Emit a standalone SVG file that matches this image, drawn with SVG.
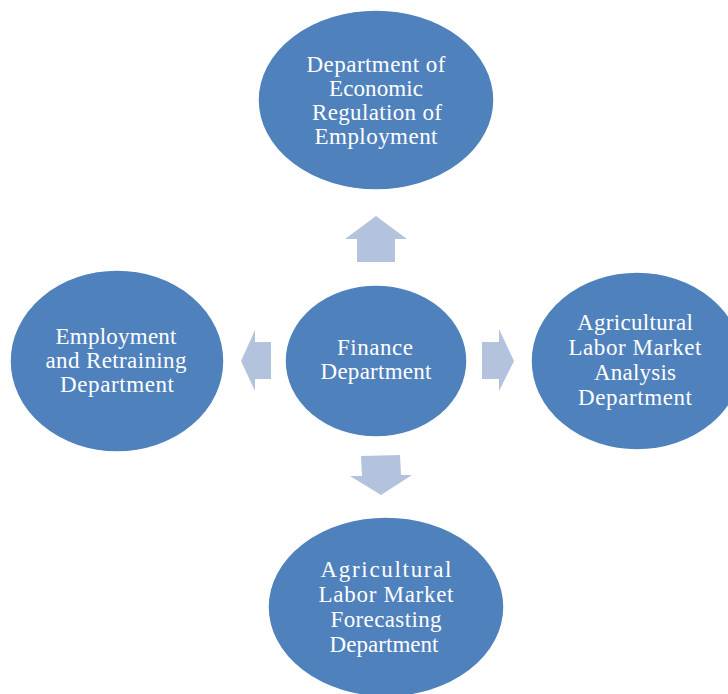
<svg xmlns="http://www.w3.org/2000/svg" width="728" height="694" viewBox="0 0 728 694">
  <style>
    .node { fill: #4F81BD; stroke: #ffffff; stroke-width: 1.5; }
    .label { fill: #ffffff; font-family: "Liberation Serif", "Times New Roman", serif; font-size: 23px; text-anchor: middle; }
    .arrow { fill: #B3C3DE; }
  </style>
  <rect width="728" height="694" fill="#ffffff"/>

  <g id="connectors">
    <!-- up -->
    <polygon class="arrow" points="376,216 407,239 395,239 395,262 357,262 357,239 345,239"/>
    <!-- left -->
    <polygon class="arrow" points="241,361 255,330 255,342 271,342 271,379 255,379 255,391"/>
    <!-- right -->
    <polygon class="arrow" points="514,361 499,329 499,342 482,342 482,379 499,379 499,391"/>
    <!-- down -->
    <polygon class="arrow" points="381,495 412,475 401,475 400,455 361,456 362,476 350,476"/>
  </g>

  <g id="node-economic-regulation">
    <ellipse class="node" cx="376" cy="100" rx="118" ry="90"/>
    <text class="label" x="376" y="72" textLength="139">Department of</text>
    <text class="label" x="376" y="96" textLength="94">Economic</text>
    <text class="label" x="377" y="120" textLength="130">Regulation of</text>
    <text class="label" x="376" y="144" textLength="123">Employment</text>
  </g>

  <g id="node-finance">
    <ellipse class="node" cx="376" cy="361" rx="91" ry="76"/>
    <text class="label" x="375" y="355" textLength="76">Finance</text>
    <text class="label" x="376" y="379" textLength="111">Department</text>
  </g>

  <g id="node-employment-retraining">
    <ellipse class="node" cx="117" cy="361" rx="107" ry="91"/>
    <text class="label" x="116" y="344" textLength="121">Employment</text>
    <text class="label" x="116" y="368" textLength="141">and Retraining</text>
    <text class="label" x="117" y="392" textLength="114">Department</text>
  </g>

  <g id="node-labor-market-analysis">
    <ellipse class="node" cx="637" cy="361" rx="106" ry="89"/>
    <text class="label" x="635" y="330" textLength="116">Agricultural</text>
    <text class="label" x="635" y="355" textLength="133">Labor Market</text>
    <text class="label" x="635" y="380" textLength="82">Analysis</text>
    <text class="label" x="635" y="405" textLength="114">Department</text>
  </g>

  <g id="node-labor-market-forecasting">
    <ellipse class="node" cx="386" cy="607" rx="118" ry="90"/>
    <text class="label" x="386" y="577" textLength="131">Agricultural</text>
    <text class="label" x="386" y="602" textLength="135">Labor Market</text>
    <text class="label" x="386" y="627" textLength="111">Forecasting</text>
    <text class="label" x="384" y="652" textLength="109">Department</text>
  </g>
</svg>
